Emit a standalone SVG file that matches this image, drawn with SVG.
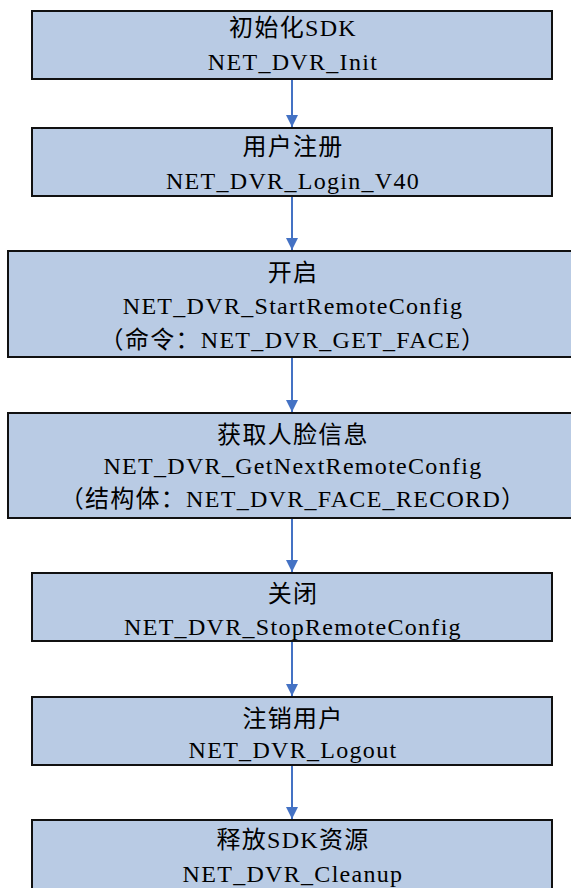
<svg xmlns="http://www.w3.org/2000/svg" width="571" height="888" viewBox="0 0 571 888">
<style>
.box{fill:#B9CBE4;stroke:#111;stroke-width:2}
.t{font-family:'Liberation Serif','Times New Roman','Noto Sans CJK SC',serif;font-size:24px;letter-spacing:1.3px;fill:#000;text-anchor:middle}
.c{stroke:#4472C4;stroke-width:2;fill:none}
</style>
<defs>
<marker id="ah" markerWidth="12" markerHeight="14" refX="12" refY="7" orient="auto" markerUnits="userSpaceOnUse">
<path d="M0,1 L12,7 L0,13 z" fill="#4472C4"/>
</marker>
</defs>
<rect width="571" height="888" fill="#fff"/>
<g id="connectors">
<line class="c" x1="292" y1="80" x2="292" y2="127" marker-end="url(#ah)"/>
<line class="c" x1="292" y1="197" x2="292" y2="250" marker-end="url(#ah)"/>
<line class="c" x1="292" y1="358" x2="292" y2="412" marker-end="url(#ah)"/>
<line class="c" x1="292" y1="519" x2="292" y2="572" marker-end="url(#ah)"/>
<line class="c" x1="292" y1="642" x2="292" y2="696" marker-end="url(#ah)"/>
<line class="c" x1="292" y1="766" x2="292" y2="819" marker-end="url(#ah)"/>
</g>
<g id="n1">
<rect class="box" x="32" y="11" width="520" height="68"/>
<text class="t" x="293" y="36">初始化SDK</text>
<text class="t" x="293" y="70">NET_DVR_Init</text>
</g>
<g id="n2">
<rect class="box" x="32" y="128" width="520" height="68"/>
<text class="t" x="293" y="155">用户注册</text>
<text class="t" x="293" y="189">NET_DVR_Login_V40</text>
</g>
<g id="n3">
<rect class="box" x="8" y="251" width="575" height="106"/>
<text class="t" x="293" y="281">开启</text>
<text class="t" x="293" y="314">NET_DVR_StartRemoteConfig</text>
<text class="t" x="293" y="348">（命令：NET_DVR_GET_FACE）</text>
</g>
<g id="n4">
<rect class="box" x="8" y="413" width="575" height="105"/>
<text class="t" x="293" y="443">获取人脸信息</text>
<text class="t" x="293" y="474">NET_DVR_GetNextRemoteConfig</text>
<text class="t" x="293" y="507">（结构体：NET_DVR_FACE_RECORD）</text>
</g>
<g id="n5">
<rect class="box" x="32" y="573" width="520" height="68"/>
<text class="t" x="293" y="602">关闭</text>
<text class="t" x="293" y="635">NET_DVR_StopRemoteConfig</text>
</g>
<g id="n6">
<rect class="box" x="32" y="697" width="520" height="68"/>
<text class="t" x="293" y="727">注销用户</text>
<text class="t" x="293" y="758">NET_DVR_Logout</text>
</g>
<g id="n7">
<rect class="box" x="32" y="820" width="520" height="72"/>
<text class="t" x="293" y="848">释放SDK资源</text>
<text class="t" x="293" y="882">NET_DVR_Cleanup</text>
</g>
</svg>
